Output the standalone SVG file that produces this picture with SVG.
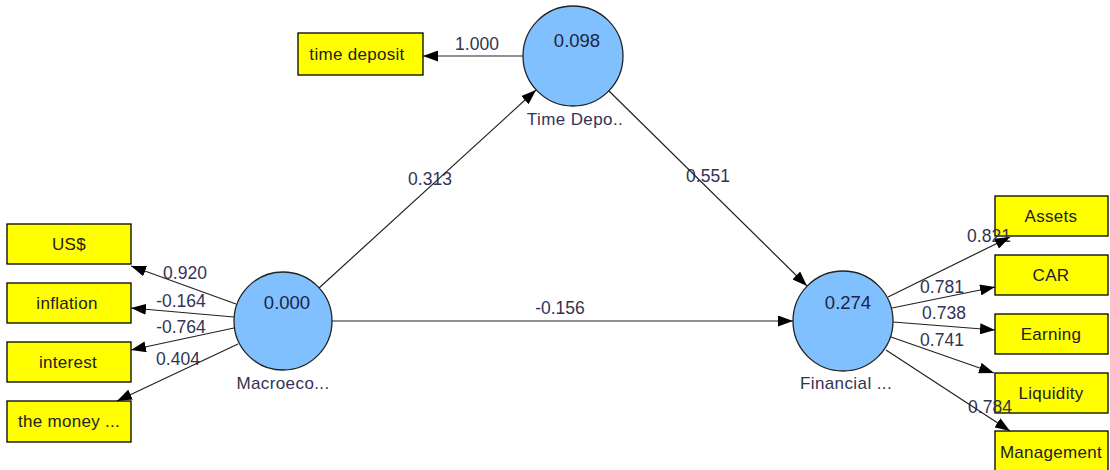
<svg xmlns="http://www.w3.org/2000/svg" width="1110" height="470" viewBox="0 0 1110 470">
<style>
.box{fill:#ffff00;stroke:#000;stroke-width:1.3}
.lv{fill:#80c0ff;stroke:#222;stroke-width:1.3}
.bt{font-family:"Liberation Sans",Arial,sans-serif;font-size:17px;letter-spacing:0.3px;fill:#222;text-anchor:middle}
.ct{font-family:"Liberation Sans",Arial,sans-serif;font-size:18.5px;fill:#222244;text-anchor:middle}
.nt{font-family:"Liberation Sans",Arial,sans-serif;font-size:17px;letter-spacing:0.4px;fill:#333355;text-anchor:middle}
.el{font-family:"Liberation Sans",Arial,sans-serif;font-size:17.5px;fill:#333355;text-anchor:middle}
.cn line{stroke:#222;stroke-width:1.2;marker-end:url(#ah)}
</style>
<defs>
<marker id="ah" markerUnits="userSpaceOnUse" markerWidth="15" markerHeight="11" refX="15" refY="5.5" orient="auto">
<path d="M0,0 L15,5.5 L0,11 z" fill="#000"/>
</marker>
</defs>
<rect width="1110" height="470" fill="#fff"/>

<g id="node-time-deposit-ind"><rect class="box" x="298" y="33" width="125" height="42"/><text class="bt" x="357" y="60">time deposit</text></g>
<g id="node-us"><rect class="box" x="7" y="224" width="124" height="40"/><text class="bt" x="69" y="250">US$</text></g>
<g id="node-inflation"><rect class="box" x="7" y="283" width="124" height="40"/><text class="bt" x="67" y="309">inflation</text></g>
<g id="node-interest"><rect class="box" x="7" y="342" width="124" height="40"/><text class="bt" x="68" y="368">interest</text></g>
<g id="node-money"><rect class="box" x="7" y="401" width="124" height="41"/><text class="bt" x="69" y="427">the money ...</text></g>
<g id="node-assets"><rect class="box" x="995" y="196" width="113" height="40"/><text class="bt" x="1051" y="222">Assets</text></g>
<g id="node-car"><rect class="box" x="995" y="255" width="113" height="40"/><text class="bt" x="1051" y="281">CAR</text></g>
<g id="node-earning"><rect class="box" x="995" y="314" width="113" height="40"/><text class="bt" x="1051" y="340">Earning</text></g>
<g id="node-liquidity"><rect class="box" x="995" y="373" width="113" height="40"/><text class="bt" x="1051" y="399">Liquidity</text></g>
<g id="node-management"><rect class="box" x="995" y="431" width="113" height="42"/><text class="bt" x="1051" y="458">Management</text></g>

<g id="node-timedepo"><circle class="lv" cx="573" cy="56" r="50"/><text class="ct" x="577" y="47">0.098</text><text class="nt" x="575" y="125">Time Depo..</text></g>
<g id="node-macro"><circle class="lv" cx="283" cy="321" r="49"/><text class="ct" x="287" y="309">0.000</text><text class="nt" x="283" y="389">Macroeco...</text></g>
<g id="node-financial"><circle class="lv" cx="843" cy="321" r="50"/><text class="ct" x="848" y="309">0.274</text><text class="nt" x="846" y="389">Financial ...</text></g>

<g id="edge-labels">
<text class="el" x="477" y="50">1.000</text>
<text class="el" x="430" y="185">0.313</text>
<text class="el" x="708" y="182">0.551</text>
<text class="el" x="560" y="314">-0.156</text>
<text class="el" x="185" y="279">0.920</text>
<text class="el" x="181" y="307">-0.164</text>
<text class="el" x="181" y="333">-0.764</text>
<text class="el" x="178" y="365">0.404</text>
<text class="el" x="989" y="242">0.821</text>
<text class="el" x="942" y="293">0.781</text>
<text class="el" x="944" y="319">0.738</text>
<text class="el" x="942" y="346">0.741</text>
<text class="el" x="990" y="413">0.784</text>
</g>

<g id="connectors" class="cn">
<line x1="523" y1="56" x2="423" y2="56"/>
<line x1="319" y1="288" x2="536" y2="90"/>
<line x1="609" y1="91" x2="807" y2="286"/>
<line x1="332" y1="321" x2="793" y2="321"/>
<line x1="236" y1="304" x2="131" y2="266"/>
<line x1="234" y1="317" x2="131" y2="308"/>
<line x1="234" y1="328" x2="131" y2="350"/>
<line x1="238" y1="344" x2="117" y2="401"/>
<line x1="888" y1="297" x2="1010" y2="237"/>
<line x1="892" y1="308" x2="995" y2="287"/>
<line x1="893" y1="322" x2="995" y2="330"/>
<line x1="891" y1="337" x2="994" y2="373"/>
<line x1="886" y1="350" x2="1010" y2="431"/>
</g>
</svg>
